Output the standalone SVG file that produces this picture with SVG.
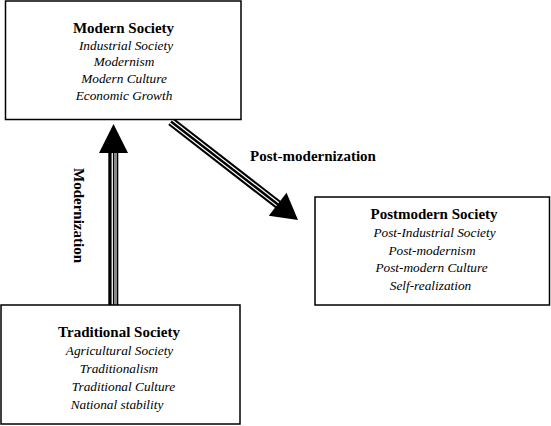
<svg xmlns="http://www.w3.org/2000/svg" width="551" height="426" viewBox="0 0 551 426">
<style>
.box{fill:#fff;stroke:#000;stroke-width:1.5}
text{font-family:"Liberation Serif","Times New Roman",serif;text-anchor:middle;fill:#000}
.t{font-weight:bold;font-size:15px}
.i{font-style:italic;font-size:13.3px}
</style>
<rect width="551" height="426" fill="#fff"/>
<g id="connectors">
  <g id="modernization">
    <rect x="108.3" y="151" width="10" height="154" fill="#000"/>
    <rect x="111.6" y="151" width="1.3" height="154" fill="#fff"/>
    <rect x="114" y="151" width="3" height="154" fill="#888"/>
    <polygon points="99,153 128,153 113.5,124" fill="#000"/>
    <text class="t" transform="translate(74,215.5) rotate(90)">Modernization</text>
  </g>
  <g id="postmodernization">
    <g transform="translate(171,121.5) rotate(37.8)">
      <rect x="0" y="-4.5" width="137" height="9" fill="#000"/>
      <rect x="0" y="-2.4" width="137" height="1.2" fill="#fff"/>
      <rect x="0" y="1.2" width="137" height="1.2" fill="#fff"/>
      <polygon points="135,-14.5 135,14.5 160.7,0" fill="#000"/>
    </g>
    <text class="t" x="313" y="160.5">Post-modernization</text>
  </g>
</g>
<g id="modern">
  <rect class="box" x="5.5" y="1" width="235.5" height="118.5"/>
  <text class="t" x="123.5" y="33">Modern Society</text>
  <text class="i" x="126" y="49.5">Industrial Society</text>
  <text class="i" x="124" y="66">Modernism</text>
  <text class="i" x="124" y="83">Modern Culture</text>
  <text class="i" x="124" y="100">Economic Growth</text>
</g>
<g id="postmodern">
  <rect class="box" x="315" y="197" width="234.5" height="108"/>
  <text class="t" x="434" y="219">Postmodern Society</text>
  <text class="i" x="434.5" y="237">Post-Industrial Society</text>
  <text class="i" x="432" y="254.5">Post-modernism</text>
  <text class="i" x="431.5" y="272">Post-modern Culture</text>
  <text class="i" x="430.5" y="289.5">Self-realization</text>
</g>
<g id="traditional">
  <rect class="box" x="1" y="305" width="239" height="119"/>
  <text class="t" x="119" y="337">Traditional Society</text>
  <text class="i" x="119.5" y="355">Agricultural Society</text>
  <text class="i" x="119" y="373">Traditionalism</text>
  <text class="i" x="123.5" y="391">Traditional Culture</text>
  <text class="i" x="117" y="409">National stability</text>
</g>
</svg>
